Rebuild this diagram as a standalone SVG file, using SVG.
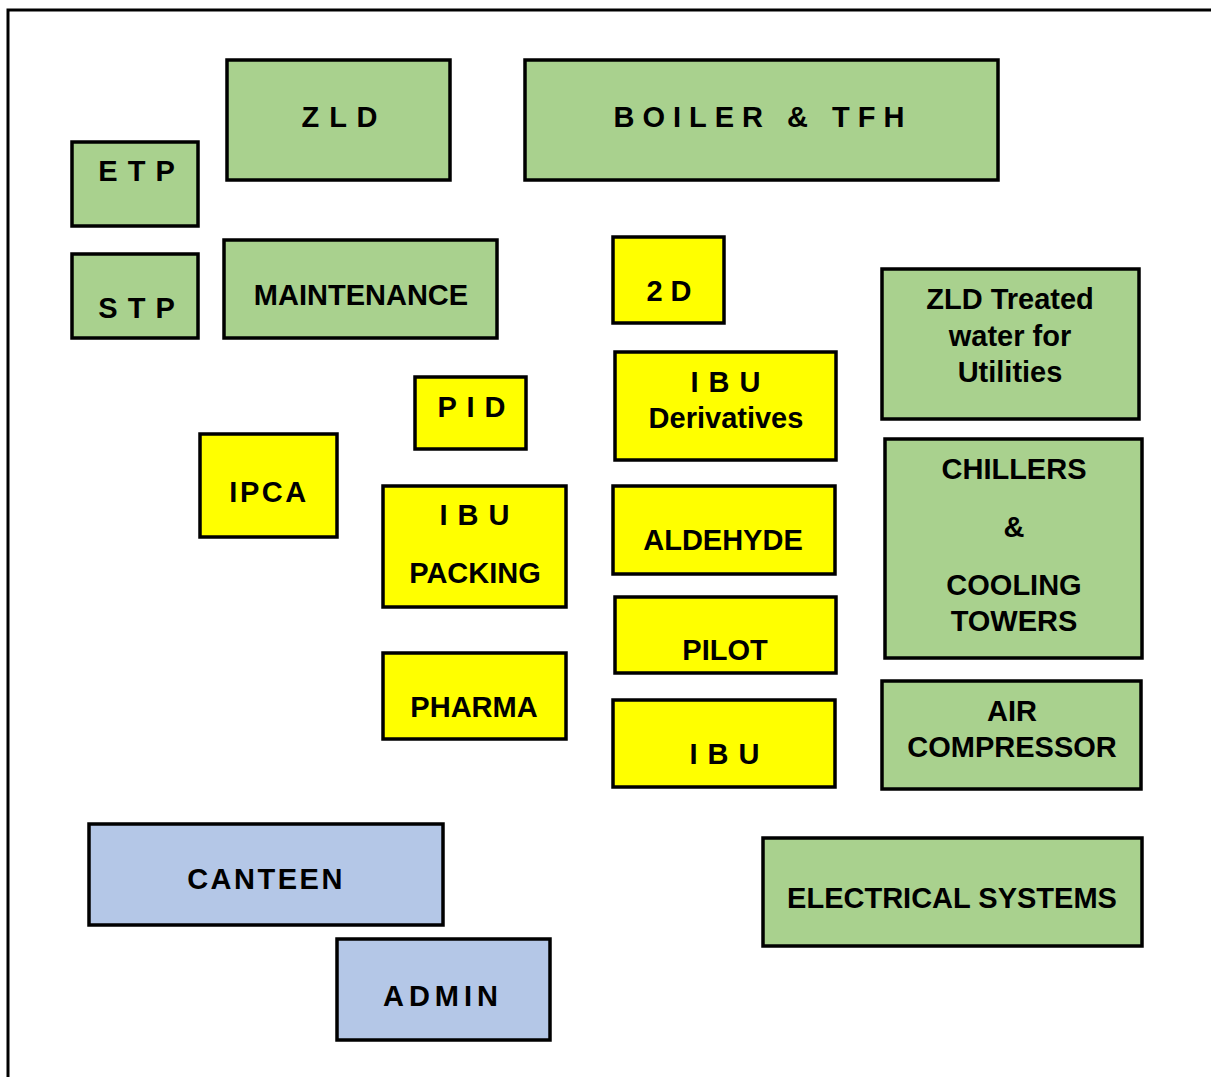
<svg xmlns="http://www.w3.org/2000/svg" width="1211" height="1077" viewBox="0 0 1211 1077">
<style>
.g{fill:#A9D18E;stroke:#000;stroke-width:3.5}
.y{fill:#FFFF00;stroke:#000;stroke-width:3.5}
.b{fill:#B4C7E7;stroke:#000;stroke-width:3.5}
text{font-family:"Liberation Sans",Arial,sans-serif;font-weight:bold;font-size:29px;fill:#000;text-anchor:middle}
.s1{letter-spacing:1px}
.s3{letter-spacing:2.5px}
.s6{letter-spacing:5px}
.s9{letter-spacing:8px}
</style>
<rect x="8" y="10" width="1215" height="1080" fill="#fff" stroke="#000" stroke-width="3"/>
<g id="connectors"></g>
<g id="zld"><rect class="g" x="227" y="60" width="223" height="120"/><text class="s1" x="340" y="127">Z L D</text></g>
<g id="boiler"><rect class="g" x="525" y="60" width="473" height="120"/><text class="s9" x="763" y="127">BOILER &amp; TFH</text></g>
<g id="etp"><rect class="g" x="72" y="142" width="126" height="84"/><text class="s1" x="137" y="181">E T P</text></g>
<g id="stp"><rect class="g" x="72" y="254" width="126" height="84"/><text class="s1" x="137" y="318">S T P</text></g>
<g id="maintenance"><rect class="g" x="224" y="240" width="273" height="98"/><text x="361" y="305">MAINTENANCE</text></g>
<g id="twod"><rect class="y" x="613" y="237" width="111" height="86"/><text x="669" y="301">2 D</text></g>
<g id="ibu-derivatives"><rect class="y" x="615" y="352" width="221" height="108"/><text class="s1" x="726" y="392">I B U</text><text x="726" y="428">Derivatives</text></g>
<g id="zld-treated"><rect class="g" x="882" y="269" width="257" height="150"/><text x="1010" y="309">ZLD Treated</text><text x="1010" y="346">water for</text><text x="1010" y="382">Utilities</text></g>
<g id="pid"><rect class="y" x="415" y="377" width="111" height="72"/><text class="s1" x="472" y="417">P I D</text></g>
<g id="ipca"><rect class="y" x="200" y="434" width="137" height="103"/><text class="s3" x="269" y="502">IPCA</text></g>
<g id="ibu-packing"><rect class="y" x="383" y="486" width="183" height="121"/><text class="s1" x="475" y="525">I B U</text><text x="475" y="583">PACKING</text></g>
<g id="pharma"><rect class="y" x="383" y="653" width="183" height="86"/><text x="474" y="717">PHARMA</text></g>
<g id="aldehyde"><rect class="y" x="613" y="486" width="222" height="88"/><text x="723" y="550">ALDEHYDE</text></g>
<g id="chillers"><rect class="g" x="885" y="439" width="257" height="219"/><text x="1014" y="479">CHILLERS</text><text x="1014" y="537">&amp;</text><text x="1014" y="595">COOLING</text><text x="1014" y="631">TOWERS</text></g>
<g id="pilot"><rect class="y" x="615" y="597" width="221" height="76"/><text x="725" y="660">PILOT</text></g>
<g id="air-compressor"><rect class="g" x="882" y="681" width="259" height="108"/><text x="1012" y="721">AIR</text><text x="1012" y="757">COMPRESSOR</text></g>
<g id="ibu"><rect class="y" x="613" y="700" width="222" height="87"/><text class="s1" x="725" y="764">I B U</text></g>
<g id="canteen"><rect class="b" x="89" y="824" width="354" height="101"/><text class="s3" x="266" y="889">CANTEEN</text></g>
<g id="electrical"><rect class="g" x="763" y="838" width="379" height="108"/><text x="952" y="908">ELECTRICAL SYSTEMS</text></g>
<g id="admin"><rect class="b" x="337" y="939" width="213" height="101"/><text class="s6" x="443" y="1006">ADMIN</text></g>
</svg>
